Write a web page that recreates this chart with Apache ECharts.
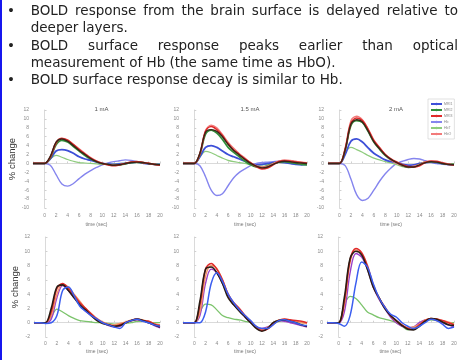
<!DOCTYPE html>
<html>
<head>
<meta charset="utf-8">
<script src="https://cdn.jsdelivr.net/npm/echarts@6/dist/echarts.min.js"></script>
<style>
  html, body { margin: 0; padding: 0; background: #fff; }
  #main { width: 464px; height: 360px; }
</style>
</head>
<body>
<div id="main"></div>
<script>
// time axis shared by every panel (sec)
const timeSec = [-2, -1, 0, 1, 2, 3, 4, 5, 6, 7, 8, 9, 10, 11, 12, 13, 14, 15, 16, 17, 18, 19, 20];
const panelTitles = ['1 mA', '1.5 mA', '2 mA'];
const legendNames = ['MRI1', 'MRI2', 'MRI3', 'Hb', 'HbT', 'HbO'];

// top row: one array per current (1, 1.5, 2 mA)
const topMri1 = [
  [0, 0, 0, 1.0, 2.8, 3.1, 2.9, 2.3, 1.5, 1.0, 0.7, 0.3, 0, -0.1, -0.2, -0.1, 0, 0.2, 0.3, 0.1, -0.1, -0.2, -0.2],
  [0, 0, 0, 1.5, 3.6, 4.0, 3.6, 2.8, 2.0, 1.5, 1.0, 0.5, 0, -0.3, -0.2, 0, 0.2, 0.3, 0.2, 0, -0.2, -0.3, -0.2],
  [0, 0, 0, 2.0, 5.0, 5.5, 4.8, 3.5, 2.3, 1.5, 0.8, 0.4, 0.2, -0.2, -0.4, -0.3, 0, 0.2, 0.3, 0.2, 0, -0.2, -0.3]
];
const topMri2 = [
  [0, 0, 0, 1.2, 4.2, 5.2, 4.8, 3.8, 2.8, 1.8, 1.0, 0.4, 0, -0.2, -0.4, -0.3, -0.1, 0.2, 0.3, 0.2, 0, -0.2, -0.3],
  [0, 0, 0, 2.0, 6.6, 7.5, 6.8, 5.4, 3.6, 2.5, 1.5, 0.5, -0.3, -0.8, -0.9, -0.5, 0, 0.3, 0.4, 0.2, 0, -0.2, -0.3],
  [0, 0, 0, 3.0, 8.5, 9.6, 9.2, 7.2, 4.8, 3.2, 1.8, 0.8, 0.2, -0.5, -0.9, -0.8, -0.2, 0.3, 0.4, 0.3, 0, -0.2, -0.2]
];
const topMri3 = [
  [0, 0, 0, 1.4, 4.6, 5.6, 5.2, 4.2, 3.1, 2.1, 1.2, 0.5, 0, -0.3, -0.5, -0.3, 0, 0.3, 0.4, 0.2, 0, -0.2, -0.4],
  [0, 0, 0, 2.2, 7.2, 8.3, 7.6, 6.2, 4.4, 3.0, 2.0, 1.0, 0.1, -0.7, -1.2, -1.0, -0.3, 0.4, 0.6, 0.5, 0.3, 0.2, 0],
  [0, 0, 0, 3.2, 9.0, 10.2, 9.6, 7.6, 5.1, 3.5, 2.0, 1.0, 0.3, -0.3, -0.7, -0.8, -0.5, 0.2, 0.5, 0.4, 0.1, -0.2, -0.3]
];
const topDark = [
  [0, 0, 0, 1.6, 4.8, 5.5, 5.0, 4.0, 2.9, 2.0, 1.1, 0.4, 0, -0.2, -0.4, -0.3, 0, 0.2, 0.3, 0.2, 0, -0.2, -0.3],
  [0, 0, 0, 2.3, 7.0, 7.6, 7.2, 6.0, 4.3, 2.9, 1.9, 0.9, 0, -0.6, -1.0, -0.8, -0.2, 0.3, 0.5, 0.4, 0.2, 0.1, 0],
  [0, 0, 0, 3.1, 8.8, 9.8, 9.3, 7.3, 4.9, 3.3, 1.9, 0.9, 0.2, -0.4, -0.8, -0.8, -0.3, 0.2, 0.4, 0.3, 0, -0.2, -0.3]
];
const topHb = [
  [0, 0, 0, -0.4, -2.5, -4.6, -5.1, -4.5, -3.4, -2.4, -1.6, -0.9, -0.3, 0.1, 0.4, 0.6, 0.8, 0.7, 0.4, 0.1, -0.1, -0.2, -0.3],
  [0, 0, 0, -0.5, -3.0, -6.0, -7.2, -6.8, -5.0, -3.2, -2.0, -1.2, -0.5, 0, 0.2, 0.3, 0.4, 0.5, 0.5, 0.3, 0, -0.2, -0.2],
  [0, 0, 0, -0.5, -3.5, -7.0, -8.3, -7.8, -6.0, -4.0, -2.3, -1.0, 0, 0.5, 0.9, 1.1, 1.0, 0.6, 0.2, 0, -0.2, -0.3, -0.3]
];
const topHbT = [
  [0, 0, 0, 1.0, 1.8, 1.4, 0.9, 0.5, 0.2, 0.1, 0, -0.1, -0.2, -0.2, -0.1, 0, 0.1, 0.2, 0.2, 0.1, 0, -0.1, -0.1],
  [0, 0, 0, 1.5, 2.7, 2.4, 1.8, 1.2, 0.7, 0.4, 0.2, 0, -0.3, -0.5, -0.4, -0.2, 0, 0.2, 0.2, 0.1, 0, 0, 0],
  [0, 0, 0, 2.5, 3.6, 3.1, 2.5, 1.8, 1.2, 0.8, 0.4, 0.1, -0.3, -0.7, -0.9, -0.6, -0.2, 0.2, 0.3, 0.2, 0, -0.1, -0.1]
];
const topHbO = [
  [0, 0, 0, 1.5, 4.8, 5.7, 5.3, 4.3, 3.3, 2.3, 1.3, 0.6, 0.1, -0.3, -0.4, -0.3, 0, 0.3, 0.4, 0.3, 0.1, -0.2, -0.4],
  [0, 0, 0, 2.1, 7.4, 8.6, 8.0, 6.5, 4.8, 3.4, 2.2, 1.2, 0.2, -0.5, -0.8, -0.6, 0, 0.5, 0.8, 0.7, 0.5, 0.3, 0.2],
  [0, 0, 0, 3.5, 9.6, 10.6, 9.8, 7.8, 5.3, 3.6, 2.0, 0.8, 0, -0.5, -0.8, -0.6, -0.2, 0.4, 0.6, 0.5, 0.2, -0.1, -0.4]
];

// bottom row
const botBlue = [
  [0, 0, -0.1, 0, 1.0, 4.5, 5.0, 3.8, 2.3, 1.6, 1.0, 0.5, 0, -0.3, -0.6, -0.8, 0, 0.3, 0.5, 0.2, 0, -0.3, -0.5],
  [0, 0, 0, 0, 1.5, 5.5, 7.0, 5.8, 4.0, 2.8, 1.8, 1.0, 0.3, -0.5, -0.8, -0.8, -0.3, 0.3, 0.4, 0.2, 0, -0.3, -0.4],
  [0, 0, -0.1, -0.5, 1.0, 5.5, 8.5, 7.8, 5.5, 3.5, 2.2, 1.2, 0.8, 0, -0.5, -0.8, -0.5, 0, 0.5, 0.3, -0.2, -0.8, -0.6]
];
const botBlack = [
  [0, 0, 0, 2.0, 5.0, 5.3, 4.5, 3.5, 2.5, 1.8, 1.0, 0.3, -0.1, -0.3, -0.5, -0.4, 0, 0.3, 0.5, 0.3, 0, -0.3, -0.6],
  [0, 0, 0, 3.0, 7.5, 7.8, 7.0, 5.5, 3.5, 2.5, 1.6, 0.8, 0, -0.8, -1.2, -0.8, 0, 0.3, 0.4, 0.2, 0, -0.3, -0.5],
  [0, 0, 0, 3.5, 9.0, 10.0, 9.5, 7.5, 5.0, 3.5, 2.0, 1.0, 0.3, -0.4, -0.9, -1.0, -0.5, 0.2, 0.6, 0.5, 0.1, -0.3, -0.4]
];
const botRed = [
  [0, 0, 0, 1.5, 4.8, 5.5, 4.8, 3.8, 2.8, 2.0, 1.2, 0.5, 0, -0.3, -0.5, -0.3, 0, 0.3, 0.5, 0.3, 0.2, -0.2, -0.4],
  [0, 0, 0, 2.5, 7.5, 8.3, 7.5, 6.0, 4.0, 2.8, 2.0, 1.0, 0.2, -0.6, -1.1, -0.9, -0.2, 0.3, 0.5, 0.4, 0.3, 0.2, 0],
  [0, 0, 0, 3.0, 8.8, 10.4, 9.8, 8.0, 5.3, 3.5, 2.2, 1.0, 0.3, -0.3, -0.8, -0.9, -0.3, 0.3, 0.6, 0.5, 0.3, 0, -0.3]
];
const botPurple = [
  [0, 0, 0, 0.5, 3.5, 5.2, 4.5, 3.5, 2.5, 1.6, 1.0, 0.4, 0, -0.4, -0.6, -0.5, 0, 0.3, 0.4, 0.3, 0, -0.4, -0.7],
  [0, 0, 0, 1.0, 5.5, 7.5, 7.0, 5.5, 3.8, 2.5, 1.7, 0.8, 0, -0.6, -0.8, -0.6, -0.1, 0.3, 0.2, 0, -0.2, -0.4, -0.6],
  [0, 0, 0, 1.5, 7.0, 9.7, 9.2, 7.5, 5.0, 3.3, 2.0, 0.8, 0, -0.5, -0.7, -0.6, 0, 0.4, 0.5, 0.3, 0, -0.3, -0.6]
];
const botSalmon = [
  [0, 0, 0, 1.0, 4.0, 5.4, 5.0, 4.0, 3.0, 2.0, 1.3, 0.6, 0.1, -0.2, -0.3, -0.1, 0.1, 0.4, 0.5, 0.4, 0.2, -0.1, -0.3],
  [0, 0, 0, 1.5, 6.5, 8.0, 7.6, 6.0, 4.0, 2.6, 1.8, 0.9, 0.1, -0.5, -1.0, -0.7, 0, 0.4, 0.5, 0.3, 0.2, 0, -0.1],
  [0, 0, 0, 2.5, 8.5, 10.2, 9.6, 7.8, 5.2, 3.4, 2.2, 1.0, 0.2, -0.4, -0.7, -0.6, -0.2, 0.4, 0.6, 0.5, 0.3, 0.1, -0.2]
];
const botGreen = [
  [0, 0, 0, 0.8, 1.9, 1.5, 1.0, 0.6, 0.3, 0.2, 0.1, 0, 0, -0.1, -0.2, -0.2, -0.1, 0, 0.2, 0.2, 0.1, 0, 0],
  [0, 0, 0, 1.5, 2.6, 2.5, 1.8, 1.0, 0.7, 0.5, 0.4, 0.2, 0, -0.6, -1.1, -0.7, -0.2, 0.2, 0.3, 0.2, 0.1, 0, 0],
  [0, 0, 0, 2.5, 3.7, 3.4, 2.5, 1.5, 1.1, 0.7, 0.5, 0.3, 0, -0.5, -1.0, -0.8, -0.3, 0.2, 0.4, 0.3, 0.1, 0, 0]
];

// y tick ranges
const topYRange = [-10, 12];
const botYRange = [-2, 12];

const bulletLines = [
  { text: 'BOLD response from the brain surface is delayed relative to', bullet: true, justify: true },
  { text: 'deeper layers.', bullet: false, justify: false },
  { text: 'BOLD surface response peaks earlier than optical', bullet: true, justify: true },
  { text: 'measurement of Hb (the same time as HbO).', bullet: false, justify: false },
  { text: 'BOLD surface response decay is similar to Hb.', bullet: true, justify: false }
];

const topGrids = [
  { left: 33, top: 110, width: 127, height: 98 },
  { left: 183, top: 110, width: 124, height: 98 },
  { left: 328, top: 110, width: 126, height: 98 }
];
const botGrids = [
  { left: 34, top: 237, width: 126, height: 100 },
  { left: 183, top: 237, width: 124, height: 100 },
  { left: 327, top: 237, width: 127, height: 100 }
];

const pair = vals => timeSec.map((t, i) => [t, vals[i]]);

let grid = [], xAxis = [], yAxis = [], series = [], titles = [];

function addPanel(g, yr, first, nameGap, labelMargin) {
  const gi = grid.length;
  grid.push(g);
  xAxis.push({
    gridIndex: gi, type: 'value', min: -2, max: 20, interval: 2,
    axisLine: { lineStyle: { color: '#d0d0d0', width: 0.8 } },
    axisTick: { show: true, inside: true, length: 2, lineStyle: { color: '#d0d0d0' } },
    splitLine: { show: false },
    axisLabel: { fontSize: 5, color: '#8a8a8a', margin: labelMargin, formatter: v => (v < 0 ? '' : v) },
    name: 'time (sec)', nameLocation: 'middle', nameGap: nameGap,
    nameTextStyle: { fontSize: 5, color: '#777' }
  });
  yAxis.push({
    gridIndex: gi, type: 'value', min: yr[0], max: yr[1], interval: 2,
    axisLine: { show: true, lineStyle: { color: '#d0d0d0', width: 0.8 } },
    axisTick: { show: true, inside: true, length: 2, lineStyle: { color: '#d0d0d0' } },
    splitLine: { show: false },
    axisLabel: { fontSize: 5, color: '#8a8a8a', margin: 4 },
    name: first ? '% change' : '', nameLocation: 'middle', nameGap: 4, nameRotate: 90,
    nameTextStyle: { fontSize: 9.5, color: '#333', fontFamily: 'Liberation Sans' }
  });
  return gi;
}

function line(gi, name, vals, color, width) {
  series.push({
    name: name, type: 'line', xAxisIndex: gi, yAxisIndex: gi,
    data: pair(vals), symbol: 'none', smooth: 0.35,
    lineStyle: { color: color, width: width }, itemStyle: { color: color },
    silent: true, animation: false
  });
}

for (let p = 0; p < 3; p++) {
  const gi = addPanel(topGrids[p], topYRange, p === 0, 14, 5);
  line(gi, 'Hb', topHb[p], '#8585ee', 1.4);
  line(gi, 'HbT', topHbT[p], '#8fcc7e', 1.2);
  line(gi, 'MRI1', topMri1[p], '#3d4fd8', 1.8);
  line(gi, 'MRI2', topMri2[p], '#2f8f3a', 1.7);
  line(gi, 'HbO', topHbO[p], '#f27a7a', 1.3);
  line(gi, 'MRI3', topMri3[p], '#e02a2a', 1.7);
  line(gi, 'BOLD', topDark[p], '#3a2418', 1.4);
  titles.push({
    text: panelTitles[p], left: topGrids[p].left + topGrids[p].width / 2, top: 101,
    textAlign: 'center',
    textStyle: { fontSize: 6, fontWeight: 'normal', color: '#555' }
  });
}
for (let p = 0; p < 3; p++) {
  const gi = addPanel(botGrids[p], botYRange, p === 0, 12, 4);
  line(gi, 'HbT', botGreen[p], '#7cc46c', 1.3);
  line(gi, 'Hb', botPurple[p], '#9a3fc8', 1.4);
  line(gi, 'HbO', botSalmon[p], '#f2956a', 1.4);
  line(gi, 'MRI3', botRed[p], '#e02a2a', 1.6);
  line(gi, 'BOLD', botBlack[p], '#2a1c14', 1.6);
  line(gi, 'MRI1', botBlue[p], '#3b5ef0', 1.5);
}

// slide text
const fontSize = 13.5;
const fontFamily = '"DejaVu Sans"';
const ctx = document.createElement('canvas').getContext('2d');
ctx.font = fontSize + 'px ' + fontFamily;
const textLeft = 30.7, textRight = 458;
const lineY = [11, 28, 46, 63, 80];
const graphic = [
  { type: 'rect', shape: { x: 0, y: 0, width: 2, height: 360 }, style: { fill: '#1616ee' } }
];
bulletLines.forEach((ln, i) => {
  const y = lineY[i];
  if (ln.bullet) {
    graphic.push({ type: 'text', x: 11, y: y, style: { text: '•', fontSize: fontSize, fontFamily: fontFamily, fill: '#222', align: 'center', verticalAlign: 'middle' } });
  }
  if (ln.justify) {
    const words = ln.text.split(' ');
    const w = words.map(s => ctx.measureText(s).width);
    const total = w.reduce((a, b) => a + b, 0);
    const gap = (textRight - textLeft - total) / (words.length - 1);
    let x = textLeft;
    words.forEach((s, k) => {
      graphic.push({ type: 'text', x: x, y: y, style: { text: s, fontSize: fontSize, fontFamily: fontFamily, fill: '#222', verticalAlign: 'middle' } });
      x += w[k] + gap;
    });
  } else {
    graphic.push({ type: 'text', x: textLeft, y: y, style: { text: ln.text, fontSize: fontSize, fontFamily: fontFamily, fill: '#222', verticalAlign: 'middle' } });
  }
});

const chart = echarts.init(document.getElementById('main'), null, { renderer: 'canvas' });
chart.setOption({
  animation: false,
  backgroundColor: '#fff',
  textStyle: { fontFamily: 'Liberation Sans' },
  title: titles,
  legend: {
    data: legendNames, orient: 'vertical', left: 428, top: 99,
    itemWidth: 11, itemHeight: 3, itemGap: 2, padding: [3, 2, 3, 2],
    borderColor: '#cfcfcf', borderWidth: 0.6, backgroundColor: '#fff',
    textStyle: { fontSize: 3.5, color: '#888', padding: [0, 0, 0, -3] },
    selectedMode: false
  },
  grid: grid,
  xAxis: xAxis,
  yAxis: yAxis,
  series: series,
  graphic: graphic
});
</script>
</body>
</html>
